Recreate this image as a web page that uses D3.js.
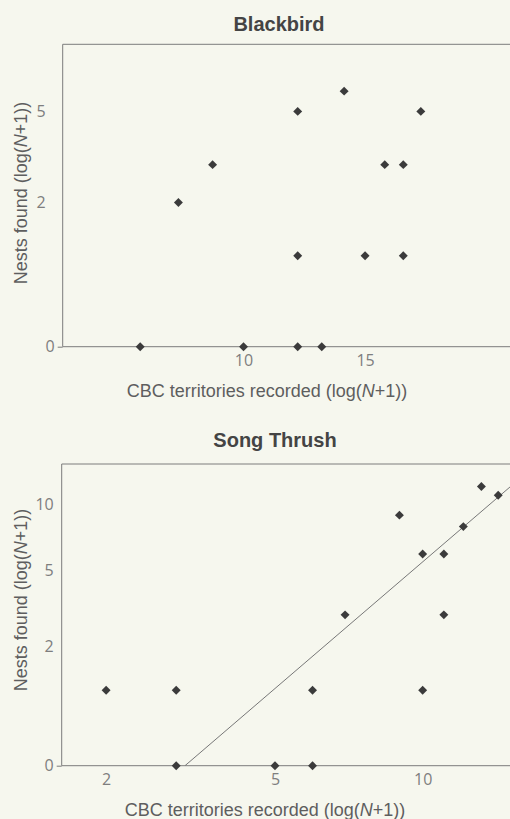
<!DOCTYPE html>
<html>
<head>
<meta charset="utf-8">
<script src="https://cdn.jsdelivr.net/npm/d3@7"></script>
<style>
  html, body { margin: 0; padding: 0; background: #f6f7ee; }
  svg { display: block; }
</style>
</head>
<body>
<svg id="chart" width="510" height="819"></svg>
<script>
// ---- Data (N = raw counts, axes show log(N+1)) ----
const blackbirdTerritories = [7, 10, 12, 13, 8, 9, 12, 14, 18, 16, 17, 12, 15, 17];
const blackbirdNests       = [0,  0,  0,  0, 2, 3,  5,  6,  5,  3,  3,  1,  1,  1];

const thrushTerritories = [2, 3, 3, 5, 6, 6, 7, 10, 11, 10, 11, 12, 9, 13, 14];
const thrushNests       = [1, 1, 0, 0, 0, 1, 3,  1,  3,  6,  6,  8, 9, 12, 11];

// fitted line for Song Thrush: log10(nests+1) = intercept + slope * log10(territories+1)
const thrushFitSlope = 1.92;
const thrushFitIntercept = -1.186;

const blackbirdXTicks = [10, 15];
const blackbirdYTicks = [0, 2, 5];
const thrushXTicks = [2, 5, 10];
const thrushYTicks = [0, 2, 5, 10];

const panelTitles = ["Blackbird", "Song Thrush"];
const xAxisTitle = "CBC territories recorded";
const yAxisTitle = "Nests found";

// ---- Drawing ----
const svg = d3.select("#chart");
svg.append("rect").attr("width", 510).attr("height", 819).attr("fill", "#f6f7ee");

const axisColor = "#7c7c7c";
const textColor = "#5e5e5e";
const tickColor = "#7e7e7e";
const pointColor = "#3b3b3b";

function panel(cfg) {
  const g = svg.append("g");
  const x = d3.scaleLog().domain(cfg.xDomain).range(cfg.xRange);
  const y = d3.scaleLog().domain(cfg.yDomain).range(cfg.yRange);
  const X = v => x(v + 1), Y = v => y(v + 1);
  const left = cfg.xRange[0], right = cfg.xRange[1];
  const bottom = cfg.yRange[0], top = cfg.yRange[1];

  // title
  g.append("text").attr("x", cfg.titleX).attr("y", cfg.titleY)
    .attr("text-anchor", "middle")
    .attr("font-family", "Liberation Sans, Arial, sans-serif")
    .attr("font-weight", "bold").attr("font-size", 20)
    .attr("fill", "#444").text(cfg.title);

  // top border
  g.append("line").attr("x1", left).attr("x2", right).attr("y1", top).attr("y2", top)
    .attr("stroke", axisColor).attr("stroke-width", 1);

  // y axis
  const yAxis = d3.axisLeft(y).tickValues(cfg.yTicks.map(v => v + 1))
    .tickFormat(v => d3.format("d")(Math.round(v - 1))).tickSize(0).tickPadding(cfg.yPad);
  const ya = g.append("g").attr("transform", `translate(${left},0)`).call(yAxis);
  ya.select(".domain").attr("stroke", axisColor).attr("d", `M0,${bottom}V${top}`);
  ya.selectAll(".tick text")
    .attr("font-family", "Open Sans, DejaVu Sans, sans-serif").attr("font-size", 16)
    .attr("fill", tickColor)
    .attr("x", d => d === 1 ? -8 : -cfg.yPad);
  ya.selectAll(".tick line").attr("x2", d => d === 1 ? -5 : 0).attr("stroke", axisColor);

  // x axis
  const xAxis = d3.axisBottom(x).tickValues(cfg.xTicks.map(v => v + 1))
    .tickFormat(v => d3.format("d")(Math.round(v - 1))).tickSize(0).tickPadding(8);
  const xa = g.append("g").attr("transform", `translate(0,${bottom})`).call(xAxis);
  xa.select(".domain").attr("stroke", axisColor).attr("d", `M${left},0H${right}`);
  xa.selectAll(".tick text")
    .attr("font-family", "Open Sans, DejaVu Sans, sans-serif").attr("font-size", 16)
    .attr("fill", tickColor);

  // axis titles
  const xt = g.append("text").attr("x", cfg.xTitleX).attr("y", cfg.xTitleY)
    .attr("text-anchor", "middle")
    .attr("font-family", "Liberation Sans, Arial, sans-serif").attr("font-size", 18)
    .attr("fill", textColor);
  xt.append("tspan").text(xAxisTitle + " (log(");
  xt.append("tspan").attr("font-style", "italic").text("N");
  xt.append("tspan").text("+1))");

  const yt = g.append("text")
    .attr("transform", `translate(${cfg.yTitleX},${cfg.yTitleY}) rotate(-90)`)
    .attr("text-anchor", "middle")
    .attr("font-family", "Liberation Sans, Arial, sans-serif").attr("font-size", 18)
    .attr("fill", textColor);
  yt.append("tspan").text(yAxisTitle + " (log(");
  yt.append("tspan").attr("font-style", "italic").text("N");
  yt.append("tspan").text("+1))");

  // clip
  const clipId = "clip" + cfg.id;
  svg.append("clipPath").attr("id", clipId).append("rect")
    .attr("x", left).attr("y", top).attr("width", right - left).attr("height", bottom - top);

  // fit line
  if (cfg.fit) {
    const lx0 = Math.pow(10, -cfg.fit.intercept / cfg.fit.slope);
    const lx1 = cfg.xDomain[1];
    const ly = vx => Math.pow(10, cfg.fit.intercept + cfg.fit.slope * Math.log10(vx));
    g.append("line").attr("clip-path", `url(#${clipId})`)
      .attr("x1", x(lx0)).attr("y1", y(ly(lx0)))
      .attr("x2", x(lx1)).attr("y2", y(ly(lx1)))
      .attr("stroke", "#777").attr("stroke-width", 1);
  }

  // points
  const pts = cfg.xs.map((v, i) => ({ x: v, y: cfg.ys[i] }));
  const sym = d3.symbol().type(d3.symbolSquare).size(40);
  g.append("g").selectAll("path").data(pts).join("path")
    .attr("d", sym)
    .attr("transform", d => `translate(${X(d.x)},${Y(d.y)}) rotate(45)`)
    .attr("fill", pointColor);
}

panel({
  id: 1, title: panelTitles[0], titleX: 279, titleY: 30.5,
  xDomain: [6.3, 25.4], xRange: [62.7, 515],
  yDomain: [1, 10], yRange: [346.7, 44.3],
  xTicks: blackbirdXTicks, yTicks: blackbirdYTicks, yPad: 17,
  xs: blackbirdTerritories, ys: blackbirdNests,
  xTitleX: 267, xTitleY: 396.5, yTitleX: 27, yTitleY: 193
});

panel({
  id: 2, title: panelTitles[1], titleX: 275, titleY: 446.5,
  xDomain: [2.5, 16.07], xRange: [61.7, 515],
  yDomain: [1, 16], yRange: [765.7, 464],
  xTicks: thrushXTicks, yTicks: thrushYTicks, yPad: 8,
  xs: thrushTerritories, ys: thrushNests,
  fit: { slope: thrushFitSlope, intercept: thrushFitIntercept },
  xTitleX: 265, xTitleY: 816, yTitleX: 27, yTitleY: 600
});
</script>
</body>
</html>
